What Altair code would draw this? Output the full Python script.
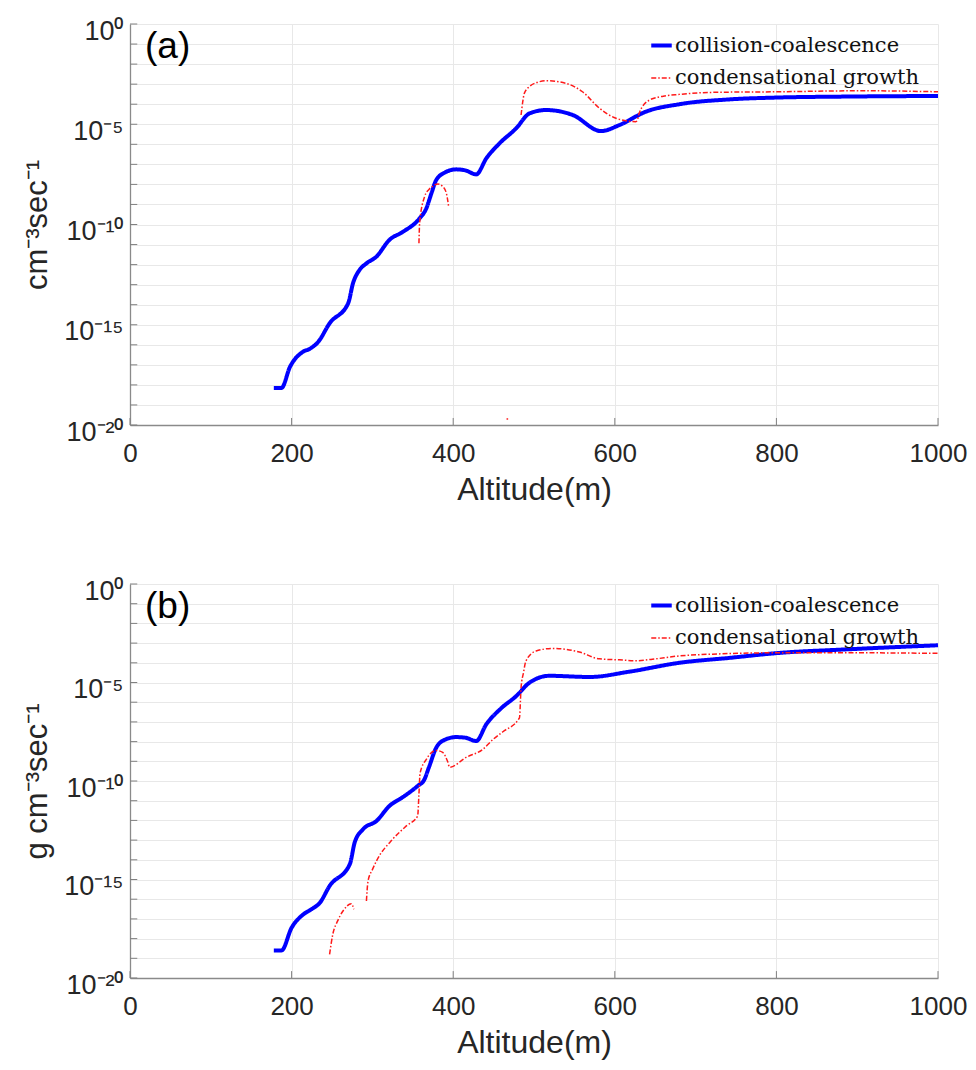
import altair as alt
import pandas as pd

CC = "collision-coalescence"
CG = "condensational growth"

# ---------------- panel (a): number rate (log10 values)
a_cc_alt = [178, 187.5, 198, 214, 222.5, 233, 247, 270, 276, 284, 292.6, 305, 321, 338,
            358.5, 366.7, 373, 379, 390, 403.6, 415, 428.5, 441, 457.4, 478, 494.4, 515,
            548, 583, 605.7, 638.6, 680, 742, 799, 886, 1000]
a_cc_exp = [-18.15, -18.15, -17.1, -16.35, -16.2, -15.85, -14.93, -13.93, -12.93, -12.27,
            -11.94, -11.6, -10.77, -10.36, -9.69, -9.2, -8.45, -7.78, -7.4, -7.25, -7.3,
            -7.5, -6.7, -5.95, -5.2, -4.46, -4.29, -4.54, -5.34, -5.04, -4.37, -4.0, -3.76,
            -3.67, -3.62, -3.59]

a_cg_alt = [357.6, 358.5, 364.6, 370, 375, 381, 387, 391.6, 394.5,
            466, 468,
            484, 486, 488, 494.4, 505, 515, 539.6, 560, 581, 601.4, 626, 628, 630, 643,
            660, 680, 721, 803, 906, 1000]
a_cg_exp = [-10.94, -9.9, -8.61, -8.25, -8.08, -7.98, -8.1, -8.45, -9.15,
            -19.7, -19.7,
            -4.54, -3.9, -3.46, -3.12, -2.9, -2.83, -2.96, -3.38, -4.2, -4.7, -4.87, -4.8,
            -4.46, -3.79, -3.6, -3.51, -3.41, -3.38, -3.33, -3.38]
a_cg_seg = [1] * 9 + [2] * 2 + [3] * 20

# ---------------- panel (b): mass rate
b_cc_alt = [178, 187.5, 200, 214.5, 224.6, 235, 247, 272, 278, 288.4, 305, 321, 338, 356,
            364, 370, 379, 390, 403.6, 415, 428.5, 441, 459.3, 478, 494.4, 519, 569, 618,
            680, 742, 803, 886, 1000]
b_cc_exp = [-18.6, -18.6, -17.45, -16.77, -16.51, -16.18, -15.33, -14.23, -13.13, -12.45,
            -12.03, -11.27, -10.81, -10.25, -9.95, -9.3, -8.31, -7.9, -7.77, -7.8, -7.97,
            -7.12, -6.31, -5.69, -5.01, -4.66, -4.72, -4.45, -4.0, -3.75, -3.5, -3.32, -3.11]

b_cg_alt = [247, 251, 257, 263.6, 274, 277,
            292.6, 294.6, 300, 305, 325, 342, 356, 357.6, 359, 366.7, 379, 387, 393, 395.6,
            416, 436.7, 449, 461.5, 482, 484, 487, 490, 502.6, 523, 556, 581, 605.7, 626,
            646.5, 680, 721, 803.5, 886, 1000]
b_cg_exp = [-18.8, -17.78, -17.1, -16.6, -16.23, -16.51,
            -16.09, -15.08, -14.5, -14.06, -12.96, -12.28, -11.78, -10.68, -9.6, -8.9, -8.45,
            -8.55, -9.0, -9.3, -8.8, -8.39, -7.9, -7.5, -6.8, -5.26, -4.5, -3.91, -3.4,
            -3.27, -3.45, -3.8, -3.85, -3.9, -3.82, -3.65, -3.56, -3.49, -3.49, -3.52]
b_cg_seg = [1] * 6 + [2] * 34

# ---------------- axes
x_ticks = [0, 200, 400, 600, 800, 1000]
y_decades = list(range(-20, 1))
y_label_exp = [-20, -15, -10, -5, 0]
y_label_text = ["10⁻²⁰", "10⁻¹⁵", "10⁻¹⁰", "10⁻⁵", "10⁰"]

label_expr = "''"
for e, t in zip(y_label_exp, y_label_text):
    label_expr = f"(round(log(datum.value)/LN10) == {e}) ? '{t}' : ({label_expr})"


def series_df(alts, exps, name, segs=None):
    return pd.DataFrame({
        "alt": alts,
        "val": [10.0 ** e for e in exps],
        "series": name,
        "seg": segs if segs is not None else [0] * len(alts),
    })


legend_def = alt.Legend(
    title=None, orient="none", legendX=519, legendY=9,
    labelFont="DejaVu Serif", labelFontSize=21, labelColor="#111111", labelLimit=0,
    symbolType="stroke", symbolSize=420, rowPadding=11, labelOffset=1,
)


def panel(cc_alt, cc_exp, cg_alt, cg_exp, cg_seg, ytitle, tag, h):
    cc = series_df(cc_alt, cc_exp, CC)
    cg = series_df(cg_alt, cg_exp, CG, cg_seg)

    xenc = alt.X("alt:Q", scale=alt.Scale(domain=[0, 1000], nice=False, zero=False),
                 axis=alt.Axis(values=x_ticks, title="Altitude(m)", grid=True, format="d",
                               labelFontSize=26, labelFlush=False, labelPadding=15,
                               titlePadding=8))
    yenc = alt.Y("val:Q", scale=alt.Scale(type="log", domain=[1e-20, 1], nice=False),
                 axis=alt.Axis(values=[10.0 ** d for d in y_decades], labelExpr=label_expr,
                               title=ytitle, grid=True, labelOverlap=False, labelFlush=False,
                               labelOffset=7, labelPadding=7, titlePadding=10))
    col = alt.Color("series:N", scale=alt.Scale(domain=[CC, CG], range=["#0000ff", "#ff1a1a"]),
                    legend=legend_def)
    dash = alt.StrokeDash("series:N", scale=alt.Scale(domain=[CC, CG], range=[[1, 0], [5, 2, 1.5, 2]]),
                          legend=legend_def)
    sw = alt.StrokeWidth("series:N", scale=alt.Scale(domain=[CC, CG], range=[4, 1.5]),
                         legend=legend_def)

    blue = alt.Chart(cc).mark_line(interpolate="monotone", strokeCap="butt").encode(
        x=xenc, y=yenc, color=col, strokeDash=dash, strokeWidth=sw)
    red = alt.Chart(cg).mark_line(interpolate="monotone").encode(
        x="alt:Q", y="val:Q", color=col, strokeDash=dash, strokeWidth=sw, detail="seg:N")

    xt = pd.DataFrame({"alt": x_ticks, "val": 1e-20, "val2": 10 ** -19.65})
    yt = pd.DataFrame({"alt": 0.0, "alt2": 9.0, "val": [10.0 ** d for d in y_decades]})
    xtick = alt.Chart(xt).mark_rule(color="#808080", strokeWidth=1).encode(
        x="alt:Q", y="val:Q", y2="val2:Q")
    ytick = alt.Chart(yt).mark_rule(color="#808080", strokeWidth=1).encode(
        x="alt:Q", x2="alt2:Q", y="val:Q")

    lab = alt.Chart(pd.DataFrame({"t": [tag]})).mark_text(
        font="Liberation Sans", fontSize=37, align="left", baseline="middle", color="#000000"
    ).encode(x=alt.value(15), y=alt.value(23), text="t:N")

    return alt.layer(xtick, ytick, blue, red, lab).properties(width=808, height=h)


pa = panel(a_cc_alt, a_cc_exp, a_cg_alt, a_cg_exp, a_cg_seg, "cm⁻³sec⁻¹", "(a)", 401)
pb = panel(b_cc_alt, b_cc_exp, b_cg_alt, b_cg_exp, b_cg_seg, "g cm⁻³sec⁻¹", "(b)", 394)

chart = alt.vconcat(pa, pb, spacing=70).resolve_legend(
    color="independent", strokeDash="independent", strokeWidth="independent"
).properties(
    padding={"left": 13, "top": 8, "right": 0, "bottom": 5}
).configure_view(stroke="transparent").configure_axis(
    labelFont="Liberation Sans", titleFont="Liberation Sans", labelColor="#262626",
    titleColor="#262626", titleFontWeight="normal", domainColor="#8a8a8a", domainWidth=1.3,
    tickSize=0, gridColor="#e8e8e8", gridWidth=1, labelFontSize=27,
).configure_axisX(titleFontSize=32).configure_axisY(titleFontSize=31)

chart.save("out.html", embed_options={"renderer": "svg", "actions": False})
